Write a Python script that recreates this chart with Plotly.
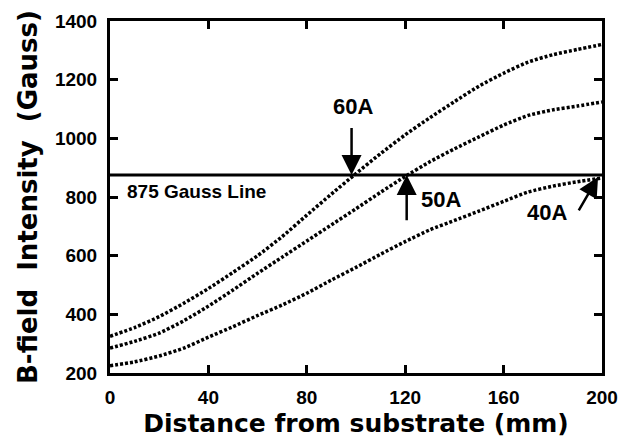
import plotly.graph_objects as go

# Distance from substrate (mm)
distance_mm = [0, 10, 20, 30, 40, 50, 60, 70, 80, 90, 100,
               110, 120, 130, 140, 150, 160, 170, 180, 190, 200]

# B-field intensity (Gauss) for each coil current
b_60A = [325, 355, 392, 438, 488, 543, 600, 665, 738, 810, 880,
         948, 1012, 1070, 1125, 1178, 1222, 1260, 1285, 1303, 1320]
b_50A = [285, 308, 336, 378, 428, 483, 540, 595, 650, 705, 760,
         816, 870, 920, 964, 1005, 1045, 1078, 1097, 1110, 1124]
b_40A = [225, 238, 258, 285, 322, 358, 396, 432, 472, 517, 560,
         605, 648, 688, 720, 752, 785, 817, 837, 852, 865]

resonance_gauss = 875
x_ticks = [0, 40, 80, 120, 160, 200]
y_ticks = [200, 400, 600, 800, 1000, 1200, 1400]

# label anchors (data units)
label_60A = dict(text="60A", x=98.8, y=1107, tip_x=98.2, tip_y=875, tail_x=98.2, tail_y=1040)
label_50A = dict(text="50A", x=134.5, y=790, tip_x=120.6, tip_y=875, tail_x=120.6, tail_y=716)
label_40A = dict(text="40A", x=177.6, y=747, tip_x=198.4, tip_y=868, tail_x=190.2, tail_y=749)

BOLD = "Liberation Sans, Arial, sans-serif"
WIDE = "DejaVu Sans, sans-serif"

fig = go.Figure()
for ys in (b_60A, b_50A, b_40A):
    fig.add_trace(go.Scatter(
        x=distance_mm, y=ys, mode="lines",
        line=dict(color="black", width=3.5, dash="3px,2px", shape="spline", smoothing=0.6),
        showlegend=False, hoverinfo="skip"))

fig.add_shape(type="line", xref="x", yref="y", x0=0, x1=200,
              y0=resonance_gauss, y1=resonance_gauss,
              line=dict(color="black", width=3))

anns = [dict(x=6, y=resonance_gauss - 57, xref="x", yref="y", text="875 Gauss Line",
             showarrow=False, xanchor="left", yanchor="middle",
             font=dict(family=BOLD, size=19, color="black", weight="bold"))]
for lab in (label_60A, label_50A, label_40A):
    anns.append(dict(x=lab["x"], y=lab["y"], xref="x", yref="y", text=lab["text"],
                     showarrow=False, xanchor="center", yanchor="middle",
                     font=dict(family=BOLD, size=22, color="black", weight="bold")))
    anns.append(dict(x=lab["tip_x"], y=lab["tip_y"], ax=lab["tail_x"], ay=lab["tail_y"],
                     xref="x", yref="y", axref="x", ayref="y", text="",
                     showarrow=True, arrowhead=2, arrowsize=1.6, arrowwidth=2.5,
                     arrowcolor="black", standoff=0))

fig.update_layout(
    width=630, height=441,
    margin=dict(l=110, r=28, t=21, b=68, autoexpand=False),
    paper_bgcolor="white", plot_bgcolor="white",
    annotations=anns,
    xaxis=dict(range=[0, 200], tickvals=x_ticks, ticks="inside", ticklen=8, tickwidth=3,
               tickcolor="black", showline=True, linewidth=3, linecolor="black",
               mirror="ticks", showgrid=False, zeroline=False, automargin=False,
               tickfont=dict(family=BOLD, size=19, color="black", weight="bold"),
               ticklabelstandoff=5,
               title=dict(text="Distance from substrate (mm)", standoff=8,
                          font=dict(family=WIDE, size=25, color="black", weight="bold"))),
    yaxis=dict(range=[200, 1400], tickvals=y_ticks, ticks="inside", ticklen=8, tickwidth=3,
               tickcolor="black", showline=True, linewidth=3, linecolor="black",
               mirror="ticks", showgrid=False, zeroline=False, automargin=False,
               tickfont=dict(family=BOLD, size=19, color="black", weight="bold"),
               ticklabelstandoff=6,
               title=dict(text="B-field  Intensity  (Gauss)", standoff=10,
                          font=dict(family=WIDE, size=26, color="black", weight="bold"))),
)

fig.write_html("out.html", config={"displayModeBar": False},
               post_script="document.body.style.margin='0';")
